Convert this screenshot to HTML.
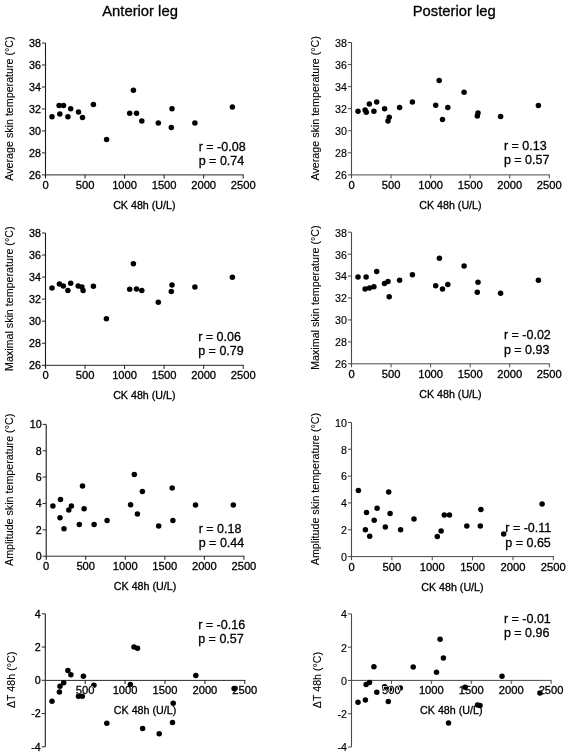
<!DOCTYPE html><html><head><meta charset="utf-8"><style>html,body{margin:0;padding:0;background:#fff;}svg{display:block;will-change:transform;}text{font-family:"Liberation Sans",sans-serif;fill:#000;stroke:#000;stroke-width:0.3px;}</style></head><body>
<svg width="568" height="753" viewBox="0 0 568 753">
<rect width="568" height="753" fill="#fff"/>
<text x="102.2" y="16.2" font-size="14.8">Anterior leg</text>
<text x="412.7" y="16.2" font-size="14.8">Posterior leg</text>
<g><line x1="45.5" y1="43.0" x2="45.5" y2="178.4" stroke="#1a1a1a" stroke-width="1.1"/><line x1="41.9" y1="174.90" x2="45.5" y2="174.90" stroke="#2a2a2a" stroke-width="1.0"/><text x="40.90" y="178.75" font-size="10.7" text-anchor="end" style="stroke-width:0.3px">26</text><line x1="41.9" y1="152.92" x2="45.5" y2="152.92" stroke="#2a2a2a" stroke-width="1.0"/><text x="40.90" y="156.77" font-size="10.7" text-anchor="end" style="stroke-width:0.3px">28</text><line x1="41.9" y1="130.93" x2="45.5" y2="130.93" stroke="#2a2a2a" stroke-width="1.0"/><text x="40.90" y="134.78" font-size="10.7" text-anchor="end" style="stroke-width:0.3px">30</text><line x1="41.9" y1="108.95" x2="45.5" y2="108.95" stroke="#2a2a2a" stroke-width="1.0"/><text x="40.90" y="112.80" font-size="10.7" text-anchor="end" style="stroke-width:0.3px">32</text><line x1="41.9" y1="86.97" x2="45.5" y2="86.97" stroke="#2a2a2a" stroke-width="1.0"/><text x="40.90" y="90.82" font-size="10.7" text-anchor="end" style="stroke-width:0.3px">34</text><line x1="41.9" y1="64.98" x2="45.5" y2="64.98" stroke="#2a2a2a" stroke-width="1.0"/><text x="40.90" y="68.83" font-size="10.7" text-anchor="end" style="stroke-width:0.3px">36</text><line x1="41.9" y1="43.00" x2="45.5" y2="43.00" stroke="#2a2a2a" stroke-width="1.0"/><text x="40.90" y="46.85" font-size="10.7" text-anchor="end" style="stroke-width:0.3px">38</text><line x1="45.5" y1="174.9" x2="243.7" y2="174.9" stroke="#2a2a2a" stroke-width="1.0"/><text x="45.50" y="188.90" font-size="11.2" text-anchor="middle">0</text><line x1="85.04" y1="174.9" x2="85.04" y2="178.5" stroke="#1a1a1a" stroke-width="1.0"/><text x="85.04" y="188.90" font-size="11.2" text-anchor="middle">500</text><line x1="124.58" y1="174.9" x2="124.58" y2="178.5" stroke="#1a1a1a" stroke-width="1.0"/><text x="124.58" y="188.90" font-size="11.2" text-anchor="middle">1000</text><line x1="164.12" y1="174.9" x2="164.12" y2="178.5" stroke="#1a1a1a" stroke-width="1.0"/><text x="164.12" y="188.90" font-size="11.2" text-anchor="middle">1500</text><line x1="203.66" y1="174.9" x2="203.66" y2="178.5" stroke="#1a1a1a" stroke-width="1.0"/><text x="203.66" y="188.90" font-size="11.2" text-anchor="middle">2000</text><line x1="243.20" y1="174.9" x2="243.20" y2="178.5" stroke="#1a1a1a" stroke-width="1.0"/><text x="243.20" y="188.90" font-size="11.2" text-anchor="middle">2500</text><text x="144.35" y="208.80" font-size="10.7" text-anchor="middle">CK 48h (U/L)</text><text transform="translate(12.8,108.55) rotate(-90)" font-size="10.7" text-anchor="middle" style="stroke-width:0.12px">Average skin temperature (°C)</text><text x="198.70" y="150.65" font-size="12.5">r = -0.08</text><text x="198.70" y="165.45" font-size="12.5">p = 0.74</text><clipPath id="dc5"><circle cx="52.0" cy="116.7" r="2.75"/><circle cx="59.8" cy="114.1" r="2.75"/><circle cx="59.1" cy="105.6" r="2.75"/><circle cx="63.5" cy="105.6" r="2.75"/><circle cx="67.9" cy="116.7" r="2.75"/><circle cx="70.7" cy="108.8" r="2.75"/><circle cx="78.5" cy="112.0" r="2.75"/><circle cx="82.5" cy="117.6" r="2.75"/><circle cx="93.4" cy="104.4" r="2.75"/><circle cx="106.6" cy="139.4" r="2.75"/><circle cx="133.4" cy="90.3" r="2.75"/><circle cx="129.7" cy="113.2" r="2.75"/><circle cx="136.5" cy="113.2" r="2.75"/><circle cx="141.8" cy="121.1" r="2.75"/><circle cx="158.3" cy="123.1" r="2.75"/><circle cx="172.0" cy="108.8" r="2.75"/><circle cx="171.3" cy="127.6" r="2.75"/><circle cx="194.9" cy="123.1" r="2.75"/><circle cx="232.4" cy="106.9" r="2.75"/></clipPath><g fill="#000"><circle cx="52.0" cy="116.7" r="2.75"/><circle cx="59.8" cy="114.1" r="2.75"/><circle cx="59.1" cy="105.6" r="2.75"/><circle cx="63.5" cy="105.6" r="2.75"/><circle cx="67.9" cy="116.7" r="2.75"/><circle cx="70.7" cy="108.8" r="2.75"/><circle cx="78.5" cy="112.0" r="2.75"/><circle cx="82.5" cy="117.6" r="2.75"/><circle cx="93.4" cy="104.4" r="2.75"/><circle cx="106.6" cy="139.4" r="2.75"/><circle cx="133.4" cy="90.3" r="2.75"/><circle cx="129.7" cy="113.2" r="2.75"/><circle cx="136.5" cy="113.2" r="2.75"/><circle cx="141.8" cy="121.1" r="2.75"/><circle cx="158.3" cy="123.1" r="2.75"/><circle cx="172.0" cy="108.8" r="2.75"/><circle cx="171.3" cy="127.6" r="2.75"/><circle cx="194.9" cy="123.1" r="2.75"/><circle cx="232.4" cy="106.9" r="2.75"/></g></g>
<g><line x1="45.5" y1="233.0" x2="45.5" y2="368.8" stroke="#1a1a1a" stroke-width="1.1"/><line x1="41.9" y1="365.30" x2="45.5" y2="365.30" stroke="#2a2a2a" stroke-width="1.0"/><text x="40.90" y="369.15" font-size="10.7" text-anchor="end" style="stroke-width:0.3px">26</text><line x1="41.9" y1="343.25" x2="45.5" y2="343.25" stroke="#2a2a2a" stroke-width="1.0"/><text x="40.90" y="347.10" font-size="10.7" text-anchor="end" style="stroke-width:0.3px">28</text><line x1="41.9" y1="321.20" x2="45.5" y2="321.20" stroke="#2a2a2a" stroke-width="1.0"/><text x="40.90" y="325.05" font-size="10.7" text-anchor="end" style="stroke-width:0.3px">30</text><line x1="41.9" y1="299.15" x2="45.5" y2="299.15" stroke="#2a2a2a" stroke-width="1.0"/><text x="40.90" y="303.00" font-size="10.7" text-anchor="end" style="stroke-width:0.3px">32</text><line x1="41.9" y1="277.10" x2="45.5" y2="277.10" stroke="#2a2a2a" stroke-width="1.0"/><text x="40.90" y="280.95" font-size="10.7" text-anchor="end" style="stroke-width:0.3px">34</text><line x1="41.9" y1="255.05" x2="45.5" y2="255.05" stroke="#2a2a2a" stroke-width="1.0"/><text x="40.90" y="258.90" font-size="10.7" text-anchor="end" style="stroke-width:0.3px">36</text><line x1="41.9" y1="233.00" x2="45.5" y2="233.00" stroke="#2a2a2a" stroke-width="1.0"/><text x="40.90" y="236.85" font-size="10.7" text-anchor="end" style="stroke-width:0.3px">38</text><line x1="45.5" y1="365.3" x2="243.7" y2="365.3" stroke="#2a2a2a" stroke-width="1.0"/><text x="45.50" y="379.30" font-size="11.2" text-anchor="middle">0</text><line x1="85.04" y1="365.3" x2="85.04" y2="368.90000000000003" stroke="#1a1a1a" stroke-width="1.0"/><text x="85.04" y="379.30" font-size="11.2" text-anchor="middle">500</text><line x1="124.58" y1="365.3" x2="124.58" y2="368.90000000000003" stroke="#1a1a1a" stroke-width="1.0"/><text x="124.58" y="379.30" font-size="11.2" text-anchor="middle">1000</text><line x1="164.12" y1="365.3" x2="164.12" y2="368.90000000000003" stroke="#1a1a1a" stroke-width="1.0"/><text x="164.12" y="379.30" font-size="11.2" text-anchor="middle">1500</text><line x1="203.66" y1="365.3" x2="203.66" y2="368.90000000000003" stroke="#1a1a1a" stroke-width="1.0"/><text x="203.66" y="379.30" font-size="11.2" text-anchor="middle">2000</text><line x1="243.20" y1="365.3" x2="243.20" y2="368.90000000000003" stroke="#1a1a1a" stroke-width="1.0"/><text x="243.20" y="379.30" font-size="11.2" text-anchor="middle">2500</text><text x="144.35" y="398.80" font-size="10.7" text-anchor="middle">CK 48h (U/L)</text><text transform="translate(12.8,298.75) rotate(-90)" font-size="10.7" text-anchor="middle" style="stroke-width:0.12px">Maximal skin temperature (°C)</text><text x="198.20" y="340.65" font-size="12.5">r = 0.06</text><text x="198.20" y="355.45" font-size="12.5">p = 0.79</text><clipPath id="dc6"><circle cx="52.0" cy="287.9" r="2.75"/><circle cx="59.4" cy="284.0" r="2.75"/><circle cx="63.3" cy="286.0" r="2.75"/><circle cx="67.9" cy="290.6" r="2.75"/><circle cx="70.7" cy="283.3" r="2.75"/><circle cx="78.2" cy="286.0" r="2.75"/><circle cx="81.9" cy="287.0" r="2.75"/><circle cx="83.1" cy="290.6" r="2.75"/><circle cx="93.4" cy="286.2" r="2.75"/><circle cx="106.4" cy="318.7" r="2.75"/><circle cx="133.4" cy="263.8" r="2.75"/><circle cx="129.7" cy="289.2" r="2.75"/><circle cx="136.5" cy="289.0" r="2.75"/><circle cx="141.8" cy="290.6" r="2.75"/><circle cx="158.3" cy="302.2" r="2.75"/><circle cx="172.0" cy="284.9" r="2.75"/><circle cx="171.3" cy="291.6" r="2.75"/><circle cx="194.9" cy="287.0" r="2.75"/><circle cx="232.4" cy="277.2" r="2.75"/></clipPath><g fill="#000"><circle cx="52.0" cy="287.9" r="2.75"/><circle cx="59.4" cy="284.0" r="2.75"/><circle cx="63.3" cy="286.0" r="2.75"/><circle cx="67.9" cy="290.6" r="2.75"/><circle cx="70.7" cy="283.3" r="2.75"/><circle cx="78.2" cy="286.0" r="2.75"/><circle cx="81.9" cy="287.0" r="2.75"/><circle cx="83.1" cy="290.6" r="2.75"/><circle cx="93.4" cy="286.2" r="2.75"/><circle cx="106.4" cy="318.7" r="2.75"/><circle cx="133.4" cy="263.8" r="2.75"/><circle cx="129.7" cy="289.2" r="2.75"/><circle cx="136.5" cy="289.0" r="2.75"/><circle cx="141.8" cy="290.6" r="2.75"/><circle cx="158.3" cy="302.2" r="2.75"/><circle cx="172.0" cy="284.9" r="2.75"/><circle cx="171.3" cy="291.6" r="2.75"/><circle cx="194.9" cy="287.0" r="2.75"/><circle cx="232.4" cy="277.2" r="2.75"/></g></g>
<g><line x1="46.2" y1="424.4" x2="46.2" y2="559.7" stroke="#1a1a1a" stroke-width="1.1"/><line x1="42.6" y1="556.20" x2="46.2" y2="556.20" stroke="#2a2a2a" stroke-width="1.0"/><text x="41.60" y="560.05" font-size="10.7" text-anchor="end" style="stroke-width:0.3px">0</text><line x1="42.6" y1="529.84" x2="46.2" y2="529.84" stroke="#2a2a2a" stroke-width="1.0"/><text x="41.60" y="533.69" font-size="10.7" text-anchor="end" style="stroke-width:0.3px">2</text><line x1="42.6" y1="503.48" x2="46.2" y2="503.48" stroke="#2a2a2a" stroke-width="1.0"/><text x="41.60" y="507.33" font-size="10.7" text-anchor="end" style="stroke-width:0.3px">4</text><line x1="42.6" y1="477.12" x2="46.2" y2="477.12" stroke="#2a2a2a" stroke-width="1.0"/><text x="41.60" y="480.97" font-size="10.7" text-anchor="end" style="stroke-width:0.3px">6</text><line x1="42.6" y1="450.76" x2="46.2" y2="450.76" stroke="#2a2a2a" stroke-width="1.0"/><text x="41.60" y="454.61" font-size="10.7" text-anchor="end" style="stroke-width:0.3px">8</text><line x1="42.6" y1="424.40" x2="46.2" y2="424.40" stroke="#2a2a2a" stroke-width="1.0"/><text x="41.60" y="428.25" font-size="10.7" text-anchor="end" style="stroke-width:0.3px">10</text><line x1="46.2" y1="556.2" x2="244.4" y2="556.2" stroke="#2a2a2a" stroke-width="1.0"/><text x="46.20" y="570.20" font-size="11.2" text-anchor="middle">0</text><line x1="85.74" y1="556.2" x2="85.74" y2="559.8000000000001" stroke="#1a1a1a" stroke-width="1.0"/><text x="85.74" y="570.20" font-size="11.2" text-anchor="middle">500</text><line x1="125.28" y1="556.2" x2="125.28" y2="559.8000000000001" stroke="#1a1a1a" stroke-width="1.0"/><text x="125.28" y="570.20" font-size="11.2" text-anchor="middle">1000</text><line x1="164.82" y1="556.2" x2="164.82" y2="559.8000000000001" stroke="#1a1a1a" stroke-width="1.0"/><text x="164.82" y="570.20" font-size="11.2" text-anchor="middle">1500</text><line x1="204.36" y1="556.2" x2="204.36" y2="559.8000000000001" stroke="#1a1a1a" stroke-width="1.0"/><text x="204.36" y="570.20" font-size="11.2" text-anchor="middle">2000</text><line x1="243.90" y1="556.2" x2="243.90" y2="559.8000000000001" stroke="#1a1a1a" stroke-width="1.0"/><text x="243.90" y="570.20" font-size="11.2" text-anchor="middle">2500</text><text x="145.05" y="589.70" font-size="10.7" text-anchor="middle">CK 48h (U/L)</text><text transform="translate(12.8,489.90) rotate(-90)" font-size="10.7" text-anchor="middle" style="stroke-width:0.12px">Amplitude skin temperature (°C)</text><text x="198.70" y="532.85" font-size="12.5">r = 0.18</text><text x="198.70" y="547.35" font-size="12.5">p = 0.44</text><clipPath id="dc7"><circle cx="52.9" cy="506.0" r="2.75"/><circle cx="60.5" cy="499.5" r="2.75"/><circle cx="60.0" cy="517.8" r="2.75"/><circle cx="64.0" cy="528.7" r="2.75"/><circle cx="68.8" cy="510.1" r="2.75"/><circle cx="71.4" cy="506.0" r="2.75"/><circle cx="79.3" cy="524.5" r="2.75"/><circle cx="82.5" cy="486.1" r="2.75"/><circle cx="84.1" cy="508.8" r="2.75"/><circle cx="94.1" cy="524.5" r="2.75"/><circle cx="107.1" cy="520.6" r="2.75"/><circle cx="134.3" cy="474.5" r="2.75"/><circle cx="130.6" cy="504.8" r="2.75"/><circle cx="137.4" cy="514.1" r="2.75"/><circle cx="142.4" cy="491.6" r="2.75"/><circle cx="158.7" cy="526.1" r="2.75"/><circle cx="172.2" cy="487.9" r="2.75"/><circle cx="172.9" cy="520.6" r="2.75"/><circle cx="195.5" cy="505.0" r="2.75"/><circle cx="233.3" cy="505.0" r="2.75"/></clipPath><g fill="#000"><circle cx="52.9" cy="506.0" r="2.75"/><circle cx="60.5" cy="499.5" r="2.75"/><circle cx="60.0" cy="517.8" r="2.75"/><circle cx="64.0" cy="528.7" r="2.75"/><circle cx="68.8" cy="510.1" r="2.75"/><circle cx="71.4" cy="506.0" r="2.75"/><circle cx="79.3" cy="524.5" r="2.75"/><circle cx="82.5" cy="486.1" r="2.75"/><circle cx="84.1" cy="508.8" r="2.75"/><circle cx="94.1" cy="524.5" r="2.75"/><circle cx="107.1" cy="520.6" r="2.75"/><circle cx="134.3" cy="474.5" r="2.75"/><circle cx="130.6" cy="504.8" r="2.75"/><circle cx="137.4" cy="514.1" r="2.75"/><circle cx="142.4" cy="491.6" r="2.75"/><circle cx="158.7" cy="526.1" r="2.75"/><circle cx="172.2" cy="487.9" r="2.75"/><circle cx="172.9" cy="520.6" r="2.75"/><circle cx="195.5" cy="505.0" r="2.75"/><circle cx="233.3" cy="505.0" r="2.75"/></g></g>
<g><line x1="45.3" y1="613.8" x2="45.3" y2="746.8" stroke="#1a1a1a" stroke-width="1.1"/><line x1="41.699999999999996" y1="746.80" x2="45.3" y2="746.80" stroke="#2a2a2a" stroke-width="1.0"/><text x="40.70" y="750.65" font-size="10.7" text-anchor="end" style="stroke-width:0.3px">-4</text><line x1="41.699999999999996" y1="713.55" x2="45.3" y2="713.55" stroke="#2a2a2a" stroke-width="1.0"/><text x="40.70" y="717.40" font-size="10.7" text-anchor="end" style="stroke-width:0.3px">-2</text><line x1="41.699999999999996" y1="680.30" x2="45.3" y2="680.30" stroke="#2a2a2a" stroke-width="1.0"/><text x="40.70" y="684.15" font-size="10.7" text-anchor="end" style="stroke-width:0.3px">0</text><line x1="41.699999999999996" y1="647.05" x2="45.3" y2="647.05" stroke="#2a2a2a" stroke-width="1.0"/><text x="40.70" y="650.90" font-size="10.7" text-anchor="end" style="stroke-width:0.3px">2</text><line x1="41.699999999999996" y1="613.80" x2="45.3" y2="613.80" stroke="#2a2a2a" stroke-width="1.0"/><text x="40.70" y="617.65" font-size="10.7" text-anchor="end" style="stroke-width:0.3px">4</text><line x1="45.3" y1="680.4" x2="245.3" y2="680.4" stroke="#2a2a2a" stroke-width="1.0"/><line x1="85.20" y1="680.4" x2="85.20" y2="684.0" stroke="#1a1a1a" stroke-width="1.0"/><text x="85.20" y="694.40" font-size="11.2" text-anchor="middle">500</text><line x1="125.10" y1="680.4" x2="125.10" y2="684.0" stroke="#1a1a1a" stroke-width="1.0"/><text x="125.10" y="694.40" font-size="11.2" text-anchor="middle">1000</text><line x1="165.00" y1="680.4" x2="165.00" y2="684.0" stroke="#1a1a1a" stroke-width="1.0"/><text x="165.00" y="694.40" font-size="11.2" text-anchor="middle">1500</text><line x1="204.90" y1="680.4" x2="204.90" y2="684.0" stroke="#1a1a1a" stroke-width="1.0"/><text x="204.90" y="694.40" font-size="11.2" text-anchor="middle">2000</text><line x1="244.80" y1="680.4" x2="244.80" y2="684.0" stroke="#1a1a1a" stroke-width="1.0"/><text x="244.80" y="694.40" font-size="11.2" text-anchor="middle">2500</text><text x="145.05" y="713.80" font-size="10.7" text-anchor="middle">CK 48h (U/L)</text><text transform="translate(14.9,679.90) rotate(-90)" font-size="10.7" text-anchor="middle" style="stroke-width:0.12px">ΔT 48h (°C)</text><text x="198.20" y="628.55" font-size="12.5">r = -0.16</text><text x="198.20" y="642.95" font-size="12.5">p = 0.57</text><clipPath id="dc8"><circle cx="52.0" cy="701.3" r="2.75"/><circle cx="59.4" cy="692.1" r="2.75"/><circle cx="60.0" cy="686.3" r="2.75"/><circle cx="63.7" cy="682.8" r="2.75"/><circle cx="67.9" cy="670.5" r="2.75"/><circle cx="70.9" cy="674.7" r="2.75"/><circle cx="78.5" cy="696.2" r="2.75"/><circle cx="82.3" cy="696.2" r="2.75"/><circle cx="83.4" cy="676.3" r="2.75"/><circle cx="93.9" cy="685.3" r="2.75"/><circle cx="106.8" cy="723.3" r="2.75"/><circle cx="130.4" cy="684.6" r="2.75"/><circle cx="134.0" cy="647.0" r="2.75"/><circle cx="137.5" cy="648.2" r="2.75"/><circle cx="142.6" cy="728.5" r="2.75"/><circle cx="159.2" cy="733.8" r="2.75"/><circle cx="172.5" cy="722.5" r="2.75"/><circle cx="173.2" cy="703.3" r="2.75"/><circle cx="195.8" cy="675.5" r="2.75"/><circle cx="234.1" cy="688.6" r="2.75"/></clipPath><g fill="#000"><circle cx="52.0" cy="701.3" r="2.75"/><circle cx="59.4" cy="692.1" r="2.75"/><circle cx="60.0" cy="686.3" r="2.75"/><circle cx="63.7" cy="682.8" r="2.75"/><circle cx="67.9" cy="670.5" r="2.75"/><circle cx="70.9" cy="674.7" r="2.75"/><circle cx="78.5" cy="696.2" r="2.75"/><circle cx="82.3" cy="696.2" r="2.75"/><circle cx="83.4" cy="676.3" r="2.75"/><circle cx="93.9" cy="685.3" r="2.75"/><circle cx="106.8" cy="723.3" r="2.75"/><circle cx="130.4" cy="684.6" r="2.75"/><circle cx="134.0" cy="647.0" r="2.75"/><circle cx="137.5" cy="648.2" r="2.75"/><circle cx="142.6" cy="728.5" r="2.75"/><circle cx="159.2" cy="733.8" r="2.75"/><circle cx="172.5" cy="722.5" r="2.75"/><circle cx="173.2" cy="703.3" r="2.75"/><circle cx="195.8" cy="675.5" r="2.75"/><circle cx="234.1" cy="688.6" r="2.75"/></g><text x="85.20" y="694.40" font-size="11.2" text-anchor="middle" clip-path="url(#dc8)" style="fill:#fff;stroke:none">500</text></g>
<g><line x1="351.5" y1="42.5" x2="351.5" y2="178.4" stroke="#4a4a4a" stroke-width="1.1"/><line x1="347.9" y1="174.90" x2="351.5" y2="174.90" stroke="#4a4a4a" stroke-width="1.0"/><text x="346.90" y="179.30" font-size="10.7" text-anchor="end" style="stroke-width:0.15px">26</text><line x1="347.9" y1="152.83" x2="351.5" y2="152.83" stroke="#4a4a4a" stroke-width="1.0"/><text x="346.90" y="157.23" font-size="10.7" text-anchor="end" style="stroke-width:0.15px">28</text><line x1="347.9" y1="130.77" x2="351.5" y2="130.77" stroke="#4a4a4a" stroke-width="1.0"/><text x="346.90" y="135.17" font-size="10.7" text-anchor="end" style="stroke-width:0.15px">30</text><line x1="347.9" y1="108.70" x2="351.5" y2="108.70" stroke="#4a4a4a" stroke-width="1.0"/><text x="346.90" y="113.10" font-size="10.7" text-anchor="end" style="stroke-width:0.15px">32</text><line x1="347.9" y1="86.63" x2="351.5" y2="86.63" stroke="#4a4a4a" stroke-width="1.0"/><text x="346.90" y="91.03" font-size="10.7" text-anchor="end" style="stroke-width:0.15px">34</text><line x1="347.9" y1="64.57" x2="351.5" y2="64.57" stroke="#4a4a4a" stroke-width="1.0"/><text x="346.90" y="68.97" font-size="10.7" text-anchor="end" style="stroke-width:0.15px">36</text><line x1="347.9" y1="42.50" x2="351.5" y2="42.50" stroke="#4a4a4a" stroke-width="1.0"/><text x="346.90" y="46.90" font-size="10.7" text-anchor="end" style="stroke-width:0.15px">38</text><line x1="351.5" y1="174.9" x2="549.8" y2="174.9" stroke="#4a4a4a" stroke-width="1.0"/><text x="351.50" y="188.90" font-size="11.2" text-anchor="middle">0</text><line x1="391.06" y1="174.9" x2="391.06" y2="178.5" stroke="#4a4a4a" stroke-width="1.0"/><text x="391.06" y="188.90" font-size="11.2" text-anchor="middle">500</text><line x1="430.62" y1="174.9" x2="430.62" y2="178.5" stroke="#4a4a4a" stroke-width="1.0"/><text x="430.62" y="188.90" font-size="11.2" text-anchor="middle">1000</text><line x1="470.18" y1="174.9" x2="470.18" y2="178.5" stroke="#4a4a4a" stroke-width="1.0"/><text x="470.18" y="188.90" font-size="11.2" text-anchor="middle">1500</text><line x1="509.74" y1="174.9" x2="509.74" y2="178.5" stroke="#4a4a4a" stroke-width="1.0"/><text x="509.74" y="188.90" font-size="11.2" text-anchor="middle">2000</text><line x1="549.30" y1="174.9" x2="549.30" y2="178.5" stroke="#4a4a4a" stroke-width="1.0"/><text x="549.30" y="188.90" font-size="11.2" text-anchor="middle">2500</text><text x="450.40" y="208.80" font-size="10.7" text-anchor="middle">CK 48h (U/L)</text><text transform="translate(318.9,108.30) rotate(-90)" font-size="10.7" text-anchor="middle" style="stroke-width:0.12px">Average skin temperature (°C)</text><text x="503.90" y="149.55" font-size="12.5">r = 0.13</text><text x="503.90" y="164.35" font-size="12.5">p = 0.57</text><clipPath id="dc9"><circle cx="358.0" cy="111.3" r="2.75"/><circle cx="365.1" cy="109.9" r="2.75"/><circle cx="366.3" cy="112.2" r="2.75"/><circle cx="369.3" cy="104.1" r="2.75"/><circle cx="373.9" cy="111.3" r="2.75"/><circle cx="376.7" cy="102.1" r="2.75"/><circle cx="384.6" cy="108.7" r="2.75"/><circle cx="389.2" cy="117.3" r="2.75"/><circle cx="388.0" cy="121.0" r="2.75"/><circle cx="399.6" cy="107.6" r="2.75"/><circle cx="412.4" cy="102.1" r="2.75"/><circle cx="439.2" cy="80.5" r="2.75"/><circle cx="435.7" cy="105.3" r="2.75"/><circle cx="447.8" cy="107.6" r="2.75"/><circle cx="442.5" cy="119.6" r="2.75"/><circle cx="464.1" cy="92.3" r="2.75"/><circle cx="478.0" cy="112.9" r="2.75"/><circle cx="477.3" cy="116.1" r="2.75"/><circle cx="500.6" cy="116.4" r="2.75"/><circle cx="538.4" cy="105.5" r="2.75"/></clipPath><g fill="#000"><circle cx="358.0" cy="111.3" r="2.75"/><circle cx="365.1" cy="109.9" r="2.75"/><circle cx="366.3" cy="112.2" r="2.75"/><circle cx="369.3" cy="104.1" r="2.75"/><circle cx="373.9" cy="111.3" r="2.75"/><circle cx="376.7" cy="102.1" r="2.75"/><circle cx="384.6" cy="108.7" r="2.75"/><circle cx="389.2" cy="117.3" r="2.75"/><circle cx="388.0" cy="121.0" r="2.75"/><circle cx="399.6" cy="107.6" r="2.75"/><circle cx="412.4" cy="102.1" r="2.75"/><circle cx="439.2" cy="80.5" r="2.75"/><circle cx="435.7" cy="105.3" r="2.75"/><circle cx="447.8" cy="107.6" r="2.75"/><circle cx="442.5" cy="119.6" r="2.75"/><circle cx="464.1" cy="92.3" r="2.75"/><circle cx="478.0" cy="112.9" r="2.75"/><circle cx="477.3" cy="116.1" r="2.75"/><circle cx="500.6" cy="116.4" r="2.75"/><circle cx="538.4" cy="105.5" r="2.75"/></g></g>
<g><line x1="351.5" y1="232.2" x2="351.5" y2="367.3" stroke="#4a4a4a" stroke-width="1.1"/><line x1="347.9" y1="363.80" x2="351.5" y2="363.80" stroke="#4a4a4a" stroke-width="1.0"/><text x="346.90" y="368.20" font-size="10.7" text-anchor="end" style="stroke-width:0.15px">26</text><line x1="347.9" y1="341.87" x2="351.5" y2="341.87" stroke="#4a4a4a" stroke-width="1.0"/><text x="346.90" y="346.27" font-size="10.7" text-anchor="end" style="stroke-width:0.15px">28</text><line x1="347.9" y1="319.93" x2="351.5" y2="319.93" stroke="#4a4a4a" stroke-width="1.0"/><text x="346.90" y="324.33" font-size="10.7" text-anchor="end" style="stroke-width:0.15px">30</text><line x1="347.9" y1="298.00" x2="351.5" y2="298.00" stroke="#4a4a4a" stroke-width="1.0"/><text x="346.90" y="302.40" font-size="10.7" text-anchor="end" style="stroke-width:0.15px">32</text><line x1="347.9" y1="276.07" x2="351.5" y2="276.07" stroke="#4a4a4a" stroke-width="1.0"/><text x="346.90" y="280.47" font-size="10.7" text-anchor="end" style="stroke-width:0.15px">34</text><line x1="347.9" y1="254.13" x2="351.5" y2="254.13" stroke="#4a4a4a" stroke-width="1.0"/><text x="346.90" y="258.53" font-size="10.7" text-anchor="end" style="stroke-width:0.15px">36</text><line x1="347.9" y1="232.20" x2="351.5" y2="232.20" stroke="#4a4a4a" stroke-width="1.0"/><text x="346.90" y="236.60" font-size="10.7" text-anchor="end" style="stroke-width:0.15px">38</text><line x1="351.5" y1="363.8" x2="549.8" y2="363.8" stroke="#4a4a4a" stroke-width="1.0"/><text x="351.50" y="377.80" font-size="11.2" text-anchor="middle">0</text><line x1="391.06" y1="363.8" x2="391.06" y2="367.40000000000003" stroke="#4a4a4a" stroke-width="1.0"/><text x="391.06" y="377.80" font-size="11.2" text-anchor="middle">500</text><line x1="430.62" y1="363.8" x2="430.62" y2="367.40000000000003" stroke="#4a4a4a" stroke-width="1.0"/><text x="430.62" y="377.80" font-size="11.2" text-anchor="middle">1000</text><line x1="470.18" y1="363.8" x2="470.18" y2="367.40000000000003" stroke="#4a4a4a" stroke-width="1.0"/><text x="470.18" y="377.80" font-size="11.2" text-anchor="middle">1500</text><line x1="509.74" y1="363.8" x2="509.74" y2="367.40000000000003" stroke="#4a4a4a" stroke-width="1.0"/><text x="509.74" y="377.80" font-size="11.2" text-anchor="middle">2000</text><line x1="549.30" y1="363.8" x2="549.30" y2="367.40000000000003" stroke="#4a4a4a" stroke-width="1.0"/><text x="549.30" y="377.80" font-size="11.2" text-anchor="middle">2500</text><text x="450.40" y="397.60" font-size="10.7" text-anchor="middle">CK 48h (U/L)</text><text transform="translate(319.2,297.60) rotate(-90)" font-size="10.7" text-anchor="middle" style="stroke-width:0.12px">Maximal skin temperature (°C)</text><text x="503.90" y="338.85" font-size="12.5">r = -0.02</text><text x="503.90" y="353.65" font-size="12.5">p = 0.93</text><clipPath id="dc10"><circle cx="358.0" cy="277.0" r="2.75"/><circle cx="366.1" cy="277.0" r="2.75"/><circle cx="365.1" cy="289.0" r="2.75"/><circle cx="369.5" cy="288.0" r="2.75"/><circle cx="373.9" cy="286.7" r="2.75"/><circle cx="376.7" cy="271.4" r="2.75"/><circle cx="384.5" cy="283.6" r="2.75"/><circle cx="388.0" cy="281.4" r="2.75"/><circle cx="389.2" cy="296.8" r="2.75"/><circle cx="399.6" cy="280.2" r="2.75"/><circle cx="412.4" cy="274.8" r="2.75"/><circle cx="439.4" cy="258.2" r="2.75"/><circle cx="435.7" cy="285.8" r="2.75"/><circle cx="442.5" cy="289.0" r="2.75"/><circle cx="447.8" cy="284.4" r="2.75"/><circle cx="464.1" cy="266.0" r="2.75"/><circle cx="478.0" cy="282.3" r="2.75"/><circle cx="477.3" cy="292.2" r="2.75"/><circle cx="500.6" cy="293.2" r="2.75"/><circle cx="538.4" cy="280.2" r="2.75"/></clipPath><g fill="#000"><circle cx="358.0" cy="277.0" r="2.75"/><circle cx="366.1" cy="277.0" r="2.75"/><circle cx="365.1" cy="289.0" r="2.75"/><circle cx="369.5" cy="288.0" r="2.75"/><circle cx="373.9" cy="286.7" r="2.75"/><circle cx="376.7" cy="271.4" r="2.75"/><circle cx="384.5" cy="283.6" r="2.75"/><circle cx="388.0" cy="281.4" r="2.75"/><circle cx="389.2" cy="296.8" r="2.75"/><circle cx="399.6" cy="280.2" r="2.75"/><circle cx="412.4" cy="274.8" r="2.75"/><circle cx="439.4" cy="258.2" r="2.75"/><circle cx="435.7" cy="285.8" r="2.75"/><circle cx="442.5" cy="289.0" r="2.75"/><circle cx="447.8" cy="284.4" r="2.75"/><circle cx="464.1" cy="266.0" r="2.75"/><circle cx="478.0" cy="282.3" r="2.75"/><circle cx="477.3" cy="292.2" r="2.75"/><circle cx="500.6" cy="293.2" r="2.75"/><circle cx="538.4" cy="280.2" r="2.75"/></g></g>
<g><line x1="351.5" y1="422.4" x2="351.5" y2="560.1" stroke="#4a4a4a" stroke-width="1.1"/><line x1="347.9" y1="556.60" x2="351.5" y2="556.60" stroke="#4a4a4a" stroke-width="1.0"/><text x="346.90" y="561.00" font-size="10.7" text-anchor="end" style="stroke-width:0.15px">0</text><line x1="347.9" y1="529.76" x2="351.5" y2="529.76" stroke="#4a4a4a" stroke-width="1.0"/><text x="346.90" y="534.16" font-size="10.7" text-anchor="end" style="stroke-width:0.15px">2</text><line x1="347.9" y1="502.92" x2="351.5" y2="502.92" stroke="#4a4a4a" stroke-width="1.0"/><text x="346.90" y="507.32" font-size="10.7" text-anchor="end" style="stroke-width:0.15px">4</text><line x1="347.9" y1="476.08" x2="351.5" y2="476.08" stroke="#4a4a4a" stroke-width="1.0"/><text x="346.90" y="480.48" font-size="10.7" text-anchor="end" style="stroke-width:0.15px">6</text><line x1="347.9" y1="449.24" x2="351.5" y2="449.24" stroke="#4a4a4a" stroke-width="1.0"/><text x="346.90" y="453.64" font-size="10.7" text-anchor="end" style="stroke-width:0.15px">8</text><line x1="347.9" y1="422.40" x2="351.5" y2="422.40" stroke="#4a4a4a" stroke-width="1.0"/><text x="346.90" y="426.80" font-size="10.7" text-anchor="end" style="stroke-width:0.15px">10</text><line x1="351.5" y1="556.6" x2="553.8" y2="556.6" stroke="#4a4a4a" stroke-width="1.0"/><text x="351.50" y="570.60" font-size="11.2" text-anchor="middle">0</text><line x1="391.86" y1="556.6" x2="391.86" y2="560.2" stroke="#4a4a4a" stroke-width="1.0"/><text x="391.86" y="570.60" font-size="11.2" text-anchor="middle">500</text><line x1="432.22" y1="556.6" x2="432.22" y2="560.2" stroke="#4a4a4a" stroke-width="1.0"/><text x="432.22" y="570.60" font-size="11.2" text-anchor="middle">1000</text><line x1="472.58" y1="556.6" x2="472.58" y2="560.2" stroke="#4a4a4a" stroke-width="1.0"/><text x="472.58" y="570.60" font-size="11.2" text-anchor="middle">1500</text><line x1="512.94" y1="556.6" x2="512.94" y2="560.2" stroke="#4a4a4a" stroke-width="1.0"/><text x="512.94" y="570.60" font-size="11.2" text-anchor="middle">2000</text><line x1="553.30" y1="556.6" x2="553.30" y2="560.2" stroke="#4a4a4a" stroke-width="1.0"/><text x="553.30" y="570.60" font-size="11.2" text-anchor="middle">2500</text><text x="452.40" y="591.10" font-size="10.7" text-anchor="middle">CK 48h (U/L)</text><text transform="translate(319.0,489.10) rotate(-90)" font-size="10.7" text-anchor="middle" style="stroke-width:0.12px">Amplitude skin temperature (°C)</text><text x="505.30" y="532.05" font-size="12.5">r = -0.11</text><text x="505.30" y="546.85" font-size="12.5">p = 0.65</text><clipPath id="dc11"><circle cx="358.4" cy="490.6" r="2.75"/><circle cx="366.5" cy="512.4" r="2.75"/><circle cx="365.4" cy="529.8" r="2.75"/><circle cx="369.7" cy="536.3" r="2.75"/><circle cx="374.2" cy="520.3" r="2.75"/><circle cx="377.1" cy="508.2" r="2.75"/><circle cx="385.3" cy="527.0" r="2.75"/><circle cx="388.7" cy="492.0" r="2.75"/><circle cx="390.1" cy="513.5" r="2.75"/><circle cx="400.6" cy="529.8" r="2.75"/><circle cx="414.0" cy="518.9" r="2.75"/><circle cx="437.3" cy="536.5" r="2.75"/><circle cx="441.1" cy="531.1" r="2.75"/><circle cx="444.3" cy="515.0" r="2.75"/><circle cx="449.5" cy="515.0" r="2.75"/><circle cx="466.8" cy="526.1" r="2.75"/><circle cx="480.9" cy="509.6" r="2.75"/><circle cx="480.3" cy="526.1" r="2.75"/><circle cx="503.7" cy="534.0" r="2.75"/><circle cx="542.1" cy="504.1" r="2.75"/></clipPath><g fill="#000"><circle cx="358.4" cy="490.6" r="2.75"/><circle cx="366.5" cy="512.4" r="2.75"/><circle cx="365.4" cy="529.8" r="2.75"/><circle cx="369.7" cy="536.3" r="2.75"/><circle cx="374.2" cy="520.3" r="2.75"/><circle cx="377.1" cy="508.2" r="2.75"/><circle cx="385.3" cy="527.0" r="2.75"/><circle cx="388.7" cy="492.0" r="2.75"/><circle cx="390.1" cy="513.5" r="2.75"/><circle cx="400.6" cy="529.8" r="2.75"/><circle cx="414.0" cy="518.9" r="2.75"/><circle cx="437.3" cy="536.5" r="2.75"/><circle cx="441.1" cy="531.1" r="2.75"/><circle cx="444.3" cy="515.0" r="2.75"/><circle cx="449.5" cy="515.0" r="2.75"/><circle cx="466.8" cy="526.1" r="2.75"/><circle cx="480.9" cy="509.6" r="2.75"/><circle cx="480.3" cy="526.1" r="2.75"/><circle cx="503.7" cy="534.0" r="2.75"/><circle cx="542.1" cy="504.1" r="2.75"/></g></g>
<g><line x1="351.5" y1="613.9" x2="351.5" y2="747.0" stroke="#4a4a4a" stroke-width="1.1"/><line x1="347.9" y1="747.00" x2="351.5" y2="747.00" stroke="#4a4a4a" stroke-width="1.0"/><text x="346.90" y="751.40" font-size="10.7" text-anchor="end" style="stroke-width:0.15px">-4</text><line x1="347.9" y1="713.73" x2="351.5" y2="713.73" stroke="#4a4a4a" stroke-width="1.0"/><text x="346.90" y="718.12" font-size="10.7" text-anchor="end" style="stroke-width:0.15px">-2</text><line x1="347.9" y1="680.45" x2="351.5" y2="680.45" stroke="#4a4a4a" stroke-width="1.0"/><text x="346.90" y="684.85" font-size="10.7" text-anchor="end" style="stroke-width:0.15px">0</text><line x1="347.9" y1="647.17" x2="351.5" y2="647.17" stroke="#4a4a4a" stroke-width="1.0"/><text x="346.90" y="651.57" font-size="10.7" text-anchor="end" style="stroke-width:0.15px">2</text><line x1="347.9" y1="613.90" x2="351.5" y2="613.90" stroke="#4a4a4a" stroke-width="1.0"/><text x="346.90" y="618.30" font-size="10.7" text-anchor="end" style="stroke-width:0.15px">4</text><line x1="351.5" y1="680.4" x2="551.6" y2="680.4" stroke="#4a4a4a" stroke-width="1.0"/><line x1="391.42" y1="680.4" x2="391.42" y2="684.0" stroke="#4a4a4a" stroke-width="1.0"/><text x="391.42" y="694.40" font-size="11.2" text-anchor="middle">500</text><line x1="431.34" y1="680.4" x2="431.34" y2="684.0" stroke="#4a4a4a" stroke-width="1.0"/><text x="431.34" y="694.40" font-size="11.2" text-anchor="middle">1000</text><line x1="471.26" y1="680.4" x2="471.26" y2="684.0" stroke="#4a4a4a" stroke-width="1.0"/><text x="471.26" y="694.40" font-size="11.2" text-anchor="middle">1500</text><line x1="511.18" y1="680.4" x2="511.18" y2="684.0" stroke="#4a4a4a" stroke-width="1.0"/><text x="511.18" y="694.40" font-size="11.2" text-anchor="middle">2000</text><line x1="551.10" y1="680.4" x2="551.10" y2="684.0" stroke="#4a4a4a" stroke-width="1.0"/><text x="551.10" y="694.40" font-size="11.2" text-anchor="middle">2500</text><text x="451.30" y="714.10" font-size="10.7" text-anchor="middle">CK 48h (U/L)</text><text transform="translate(320.7,680.05) rotate(-90)" font-size="10.7" text-anchor="middle" style="stroke-width:0.12px">ΔT 48h (°C)</text><text x="503.90" y="622.95" font-size="12.5">r = -0.01</text><text x="503.90" y="637.45" font-size="12.5">p = 0.96</text><clipPath id="dc12"><circle cx="358.0" cy="702.3" r="2.75"/><circle cx="365.4" cy="700.0" r="2.75"/><circle cx="366.1" cy="684.5" r="2.75"/><circle cx="369.5" cy="682.4" r="2.75"/><circle cx="373.9" cy="666.7" r="2.75"/><circle cx="376.8" cy="692.3" r="2.75"/><circle cx="384.6" cy="686.7" r="2.75"/><circle cx="389.2" cy="689.2" r="2.75"/><circle cx="388.3" cy="701.4" r="2.75"/><circle cx="400.3" cy="687.9" r="2.75"/><circle cx="413.2" cy="667.1" r="2.75"/><circle cx="436.5" cy="672.2" r="2.75"/><circle cx="440.1" cy="639.2" r="2.75"/><circle cx="443.4" cy="658.1" r="2.75"/><circle cx="448.5" cy="723.0" r="2.75"/><circle cx="465.2" cy="687.2" r="2.75"/><circle cx="477.5" cy="705.0" r="2.75"/><circle cx="480.0" cy="705.5" r="2.75"/><circle cx="502.0" cy="676.2" r="2.75"/><circle cx="539.9" cy="693.0" r="2.75"/></clipPath><g fill="#000"><circle cx="358.0" cy="702.3" r="2.75"/><circle cx="365.4" cy="700.0" r="2.75"/><circle cx="366.1" cy="684.5" r="2.75"/><circle cx="369.5" cy="682.4" r="2.75"/><circle cx="373.9" cy="666.7" r="2.75"/><circle cx="376.8" cy="692.3" r="2.75"/><circle cx="384.6" cy="686.7" r="2.75"/><circle cx="389.2" cy="689.2" r="2.75"/><circle cx="388.3" cy="701.4" r="2.75"/><circle cx="400.3" cy="687.9" r="2.75"/><circle cx="413.2" cy="667.1" r="2.75"/><circle cx="436.5" cy="672.2" r="2.75"/><circle cx="440.1" cy="639.2" r="2.75"/><circle cx="443.4" cy="658.1" r="2.75"/><circle cx="448.5" cy="723.0" r="2.75"/><circle cx="465.2" cy="687.2" r="2.75"/><circle cx="477.5" cy="705.0" r="2.75"/><circle cx="480.0" cy="705.5" r="2.75"/><circle cx="502.0" cy="676.2" r="2.75"/><circle cx="539.9" cy="693.0" r="2.75"/></g><text x="391.42" y="694.40" font-size="11.2" text-anchor="middle" clip-path="url(#dc12)" style="fill:#fff;stroke:none">500</text></g>
</svg></body></html>
